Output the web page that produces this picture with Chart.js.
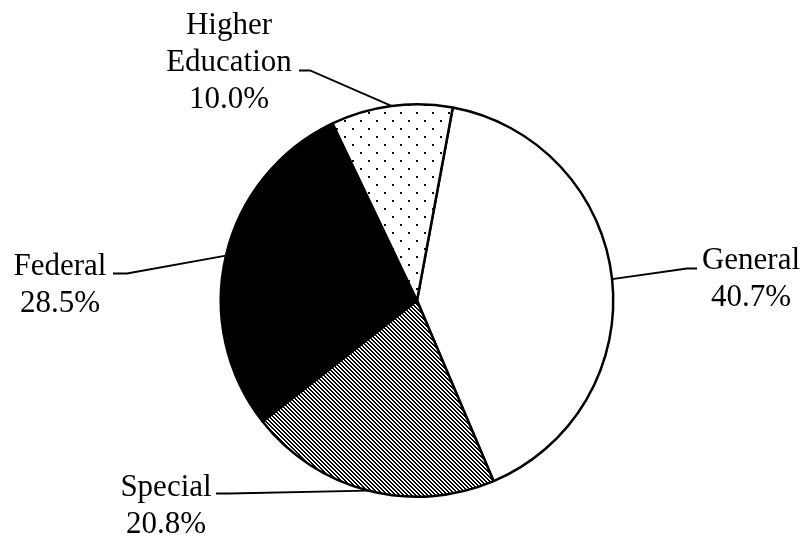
<!DOCTYPE html>
<html>
<head>
<meta charset="utf-8">
<script src="https://cdn.jsdelivr.net/npm/chart.js@4.4.0/dist/chart.umd.min.js"></script>
<style>
    html, body { margin: 0; padding: 0; background: #fff; }
    #wrap { width: 803px; height: 538px; }
</style>
</head>
<body>
<div id="wrap"><canvas id="chartPie"></canvas></div>
<script>
const labels = ['General', 'Special', 'Federal', 'Higher Education'];
const percents = [40.7, 20.8, 28.5, 10.0];

// callout placement, relative to pie centre: elbow, tail end, text centre x, first baseline
const callouts = [
    { elbow: [270, -32], tail: [280, -32], tx: 334, ty: -32, lines: ['General'] },
    { elbow: [-188, 193], tail: [-201, 193], tx: -251, ty: 195, lines: ['Special'] },
    { elbow: [-290, -27], tail: [-304, -27], tx: -357, ty: -26, lines: ['Federal'] },
    { elbow: [-107, -230], tail: [-118, -230], tx: -188, ty: -267, lines: ['Higher', 'Education'] }
];

function makeDots() {
    const c = document.createElement('canvas');
    c.width = 16; c.height = 16;
    const g = c.getContext('2d');
    g.fillStyle = '#fff';
    g.fillRect(0, 0, 16, 16);
    g.fillStyle = '#000';
    g.fillRect(0, 0, 2, 2);
    g.fillRect(8, 8, 2, 2);
    return g.createPattern(c, 'repeat');
}

function makeHatch() {
    const c = document.createElement('canvas');
    c.width = 4; c.height = 4;
    const g = c.getContext('2d');
    g.fillStyle = '#fff';
    g.fillRect(0, 0, 4, 4);
    g.fillStyle = '#000';
    for (let i = 0; i < 4; i++) {
        g.fillRect(i, i, 1, 1);
        g.fillRect((i + 1) % 4, i, 1, 1);
    }
    return g.createPattern(c, 'repeat');
}

const calloutPlugin = {
    id: 'callouts',
    afterDraw: function (chart) {
        const ctx = chart.ctx;
        const meta = chart.getDatasetMeta(0);
        ctx.save();
        ctx.strokeStyle = '#000';
        ctx.lineWidth = 1.8;
        ctx.fillStyle = '#000';
        ctx.font = '31px "Liberation Serif", "Times New Roman", serif';
        ctx.textAlign = 'center';
        ctx.textBaseline = 'alphabetic';
        meta.data.forEach(function (arc, i) {
            const p = arc.getProps(['x', 'y', 'startAngle', 'endAngle', 'outerRadius'], true);
            const mid = (p.startAngle + p.endAngle) / 2;
            const ax = p.x + Math.cos(mid) * p.outerRadius;
            const ay = p.y + Math.sin(mid) * p.outerRadius;
            const c = callouts[i];
            ctx.beginPath();
            ctx.moveTo(ax, ay);
            ctx.lineTo(p.x + c.elbow[0], p.y + c.elbow[1]);
            ctx.lineTo(p.x + c.tail[0], p.y + c.tail[1]);
            ctx.stroke();
            const text = c.lines.concat([percents[i].toFixed(1) + '%']);
            text.forEach(function (t, k) {
                ctx.fillText(t, p.x + c.tx, p.y + c.ty + k * 37);
            });
        });
        ctx.restore();
    }
};

const ctxPie = document.getElementById('chartPie');
const chartPie = new Chart(ctxPie, {
    type: 'pie',
    data: {
        labels: labels,
        datasets: [{
            data: percents,
            backgroundColor: ['#ffffff', makeHatch(), '#000000', makeDots()],
            borderColor: '#000',
            borderWidth: 2.5
        }]
    },
    options: {
        responsive: true,
        maintainAspectRatio: false,
        animation: false,
        rotation: 10.5,
        layout: {
            padding: { top: 103, bottom: 40, left: 219, right: 188 }
        },
        plugins: {
            legend: { display: false },
            tooltip: { enabled: false }
        }
    },
    plugins: [calloutPlugin]
});
</script>
</body>
</html>
